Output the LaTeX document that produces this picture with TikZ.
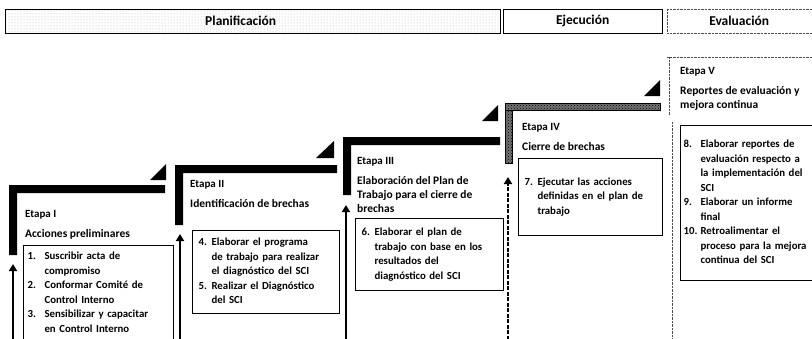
\documentclass[tikz,border=0pt]{standalone}
\usepackage{fontspec}
\setmainfont{Carlito}
\usetikzlibrary{arrows.meta, positioning, patterns}

\newcommand{\pasos}[2][13pt]{\begin{tabular}{@{}p{#1}@{}l@{}}#2\end{tabular}}

\begin{document}
\begin{tikzpicture}[
    x=1pt, y=-1pt,
    fase/.style = {draw, thin, anchor=north west, minimum height=24pt, inner sep=0pt,
      font=\bfseries\fontsize{13.5}{15}\selectfont},
    etapa/.style = {anchor=west, inner sep=0pt, font=\bfseries\fontsize{11}{14}\selectfont},
    titulo/.style = {anchor=north west, inner sep=0pt, align=left,
      font=\bfseries\fontsize{11.5}{14}\selectfont},
    caja/.style = {draw, line width=1.1pt, anchor=north west, inner xsep=6pt, inner ysep=0pt,
      align=left, font=\bfseries\fontsize{10.8}{14.5}\selectfont},
    barra/.style = {fill=black},
    ruido/.style = {draw=black, thin, preaction={fill=black!55}, pattern=crosshatch dots},
    punteado/.style = {black!70, densely dotted},
    pil/.style = {black, line width=2.6pt, -{Triangle[width=8pt,length=7pt]}},
    ]

  \useasboundingbox (0,0) rectangle (812,338);
  \clip (0,0) rectangle (812,338);

  % fases
  \node[fase, minimum width=495pt, pattern=dots, pattern color=black!30] (plan) at (5,9) {\hspace*{-24pt}Planificación};
  \node[fase, minimum width=159pt] (ejec) at (503,9) {Ejecución};
  \node[fase, draw=none, minimum width=150pt] (eval) at (667,9) {\hspace*{-6pt}Evaluación};
  \draw[punteado] (eval.north west) -- (eval.north east)
    (eval.south west) -- (eval.south east)
    (eval.north west) -- (eval.south west);

  % escalones
  \fill[barra] (9,185) rectangle (165,193) (9,185) rectangle (17,255);
  \fill[barra] (150,180) -- (166,180) -- (166,164) -- cycle;
  \fill[barra] (175,165) rectangle (337,173) (175,165) rectangle (183,225);
  \fill[barra] (316,158) -- (334,158) -- (334,141) -- cycle;
  \fill[barra] (343,137) rectangle (500,145) (343,137) rectangle (351,195);
  \fill[barra] (482,121) -- (498,121) -- (498,105) -- cycle;
  \filldraw[ruido] (505,103) rectangle (660,110) (505,110) rectangle (512,163);
  \fill[barra] (644,96) -- (660,96) -- (660,80) -- cycle;
  \draw[punteado] (667,57) -- (812,57) (669,57) -- (669,115) (672,122) -- (672,338);

  % etapas
  \node[etapa] (e1) at (25,215) {Etapa I};
  \node[titulo] (t1) [below=10pt of e1.south west, anchor=north west] {Acciones preliminares};
  \node[etapa] (e2) at (190,185) {Etapa II};
  \node[titulo] (t2) [below=10pt of e2.south west, anchor=north west] {Identificación de brechas};
  \node[etapa] (e3) at (357,162) {Etapa III};
  \node[titulo] (t3) [below=10pt of e3.south west, anchor=north west] {Elaboración del Plan de\\Trabajo para el cierre de\\brechas};
  \node[etapa] (e4) at (522,128) {Etapa IV};
  \node[titulo] (t4) [below=10pt of e4.south west, anchor=north west] {Cierre de brechas};
  \node[etapa] (e5) at (680,72) {Etapa V};
  \node[titulo] (t5) [below=10pt of e5.south west, anchor=north west] {Reportes de evaluación y\\mejora continua};

  % acciones
  \node[caja, minimum width=150pt, minimum height=95pt, text width=142pt, inner xsep=4pt] (c1) at (23,245)
    {\pasos[17pt]{1. & Suscribir acta de\\ & compromiso\\ 2. & Conformar Comité de\\ & Control Interno\\
      3. & Sensibilizar y capacitar\\ & en Control Interno}};
  \node[caja, minimum width=147pt, minimum height=83pt, text width=135pt] (c2) at (192,230)
    {\pasos{4. & Elaborar el programa\\ & de trabajo para realizar\\ & el diagnóstico del SCI\\
      5. & Realizar el Diagnóstico\\ & del SCI}};
  \node[caja, minimum width=148pt, minimum height=72pt, text width=136pt] (c3) at (355,218)
    {\pasos{6. & Elaborar el plan de\\ & trabajo con base en los\\ & resultados del\\ & diagnóstico del SCI}};
  \node[caja, minimum width=144pt, minimum height=77pt, text width=132pt] (c4) at (518,158)
    {\pasos{7. & Ejecutar las acciones\\ & definidas en el plan de\\ & trabajo}};
  \node[caja, minimum width=145pt, minimum height=155pt, text width=139pt, inner xsep=3pt] (c5) at (680,125)
    {\pasos[17pt]{8. & Elaborar reportes de\\ & evaluación respecto a\\ & la implementación del\\ & SCI\\
      9. & Elaborar un informe\\ & final\\ 10. & Retroalimentar el\\ & proceso para la mejora\\
      & continua del SCI}};

  % flechas
  \coordinate (a1) at (13,345);  \coordinate (p1) at (13,264);
  \coordinate (a2) at (180,345); \coordinate (p2) at (180,234);
  \coordinate (a3) at (346,345); \coordinate (p3) at (346,205);
  \coordinate (a4) at (508,345); \coordinate (p4) at (508,177);

  \draw[pil]
  (a1) edge (p1)
  (a2) edge (p2)
  (a3) edge (p3) ;
  \draw[pil, dash pattern=on 4pt off 1.5pt] (a4) -- (p4);
\end{tikzpicture}
\end{document}
